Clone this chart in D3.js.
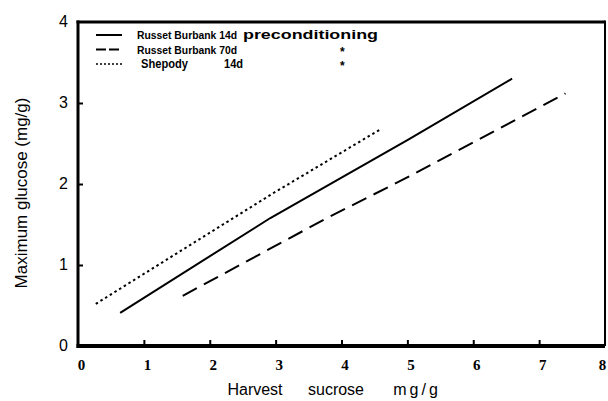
<!DOCTYPE html>
<html><head><meta charset="utf-8">
<script src="https://cdn.jsdelivr.net/npm/d3@7/dist/d3.min.js"></script>
<style>body{margin:0;background:#fff}svg{display:block}</style>
</head><body><svg id="c" width="608" height="401"></svg>
<script>
const xTicks = [0,1,2,3,4,5,6,7,8];
const yTicks = [0,1,2,3,4];
const seriesNames = ["Russet Burbank","Russet Burbank","Shepody"];
const seriesDays = ["14d","70d","14d"];
const seriesNotes = ["preconditioning","*","*"];
const solidX = [0.64,2.92,5.02,6.59];
const solidY = [0.41,1.58,2.55,3.30];
const dashX = [1.59,3.78,5.02,7.40];
const dashY = [0.62,1.58,2.09,3.12];
const dotX = [0.27,2.95,4.58];
const dotY = [0.52,1.88,2.67];

const svg = d3.select("#c");
const x = d3.scaleLinear().domain([0,8]).range([78,605]);
const y = d3.scaleLinear().domain([0,4]).range([346,22]);

// frame
const fr = svg.append("g").attr("stroke","#000").attr("fill","none");
fr.append("line").attr("x1",x(0)-1.5).attr("x2",x(8)).attr("y1",y(4)).attr("y2",y(4)).attr("stroke-width",3);
fr.append("line").attr("x1",x(8)).attr("x2",x(8)).attr("y1",y(4)-1.5).attr("y2",y(0)).attr("stroke-width",2);
fr.append("line").attr("x1",x(0)).attr("x2",x(0)).attr("y1",y(4)-1.5).attr("y2",y(0)+2).attr("stroke-width",3);
fr.append("line").attr("x1",x(0)-1.5).attr("x2",x(8)).attr("y1",y(0)).attr("y2",y(0)).attr("stroke-width",4);

const xa = svg.append("g").attr("transform",`translate(0,${y(0)})`)
  .call(d3.axisBottom(x).tickValues(xTicks).tickSizeInner(-6).tickSizeOuter(0).tickPadding(13).tickFormat(d3.format("d")));
xa.select(".domain").remove();
xa.selectAll(".tick line").attr("stroke","#000").attr("stroke-width",2);
xa.selectAll(".tick").filter(d=>d===0||d===8).select("line").remove();
xa.selectAll("text").attr("font-family","Liberation Serif").attr("font-weight","bold").attr("font-size",15).attr("fill","#000")
  .attr("dx",d=>d===8?-3:3);

const ya = svg.append("g").attr("transform",`translate(${x(0)},0)`)
  .call(d3.axisLeft(y).tickValues(yTicks).tickSizeInner(-5).tickSizeOuter(0).tickPadding(10).tickFormat(d3.format("d")));
ya.select(".domain").remove();
ya.selectAll(".tick line").attr("stroke","#000").attr("stroke-width",2);
ya.selectAll(".tick").filter(d=>d===0||d===4).select("line").remove();
ya.selectAll("text").attr("font-family","Liberation Sans").attr("font-size",16).attr("fill","#000").attr("dy","0.3em");

// lines
const line = d3.line().x(d=>x(d[0])).y(d=>y(d[1]));
const dashes = [null,"16,8","2.5,3"];
const data = [d3.zip(solidX,solidY), d3.zip(dashX,dashY), d3.zip(dotX,dotY)];
data.forEach((pts,i)=>{
  svg.append("path").attr("d",line(pts)).attr("fill","none").attr("stroke","#000")
    .attr("stroke-width",2).attr("stroke-dasharray",dashes[i]);
});

// legend
const rowY = [35,49.5,64];
const legDash = [null,"10,3","2,2"];
seriesNames.forEach((n,i)=>{
  svg.append("line").attr("x1",96).attr("x2",122).attr("y1",rowY[i]).attr("y2",rowY[i])
    .attr("stroke","#000").attr("stroke-width",i===2?1.5:2).attr("stroke-dasharray",legDash[i]);
  const t = svg.append("g").attr("font-weight","bold").attr("fill","#000")
    .attr("font-family","Liberation Sans").attr("font-size",12);
  if(i<2){
    t.append("text").attr("x",137).attr("y",rowY[i]+4).attr("font-size",10.5)
      .attr("textLength",100).attr("lengthAdjust","spacingAndGlyphs").text(n+" "+seriesDays[i]);
  } else {
    t.append("text").attr("x",141).attr("y",rowY[i]+4)
      .attr("textLength",47).attr("lengthAdjust","spacingAndGlyphs").text(n);
    t.append("text").attr("x",224).attr("y",rowY[i]+4)
      .attr("textLength",19).attr("lengthAdjust","spacingAndGlyphs").text(seriesDays[i]);
  }
  if(i===0) t.append("text").attr("x",243).attr("y",rowY[i]+4)
    .attr("textLength",135).attr("lengthAdjust","spacingAndGlyphs").text(seriesNotes[i]);
  else t.append("text").attr("x",340).attr("y",rowY[i]+6).text(seriesNotes[i]);
});

// axis titles
const xt = svg.append("g").attr("font-family","Liberation Sans").attr("font-size",16).attr("fill","#000").attr("text-anchor","middle");
xt.append("text").attr("x",255).attr("y",395).text("Harvest");
xt.append("text").attr("x",336).attr("y",395).text("sucrose");
xt.append("text").attr("x",417).attr("y",395).attr("letter-spacing",3).text("mg/g");
svg.append("text").attr("transform","translate(27,193) rotate(-90)").attr("text-anchor","middle")
  .attr("font-family","Liberation Sans").attr("font-size",17).attr("fill","#000").text("Maximum glucose (mg/g)");
</script></body></html>
